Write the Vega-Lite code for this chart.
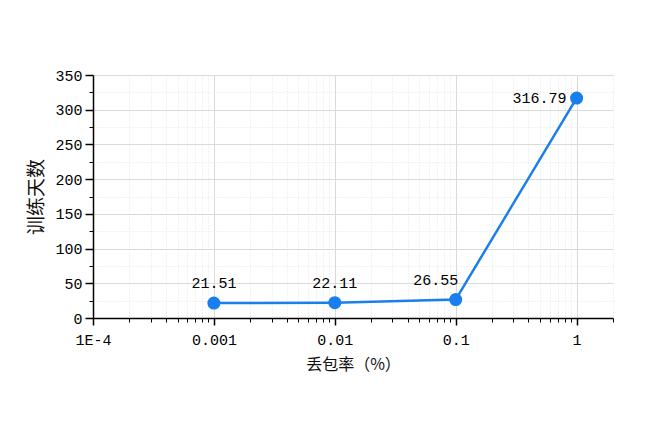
{
  "$schema": "https://vega.github.io/schema/vega-lite/v6.json",
  "autosize": {"type": "none"},
  "width": 520,
  "height": 243,
  "padding": {"left": 93, "top": 75, "right": 37, "bottom": 115},
  "background": "white",
  "data": {"values": [
    {"loss": 0.001, "days": 21.51},
    {"loss": 0.01, "days": 22.11},
    {"loss": 0.1, "days": 26.55},
    {"loss": 1, "days": 316.79}
  ]},
  "config": {
    "view": {"stroke": null},
    "axis": {"labelFont": "Liberation Mono", "labelFontSize": 15, "labelColor": "#000", "titleFont": "Noto Sans CJK SC", "titleFontSize": 16, "titleFontWeight": "normal", "titleColor": "#111"}
  },
  "resolve": {"axis": {"x": "independent", "y": "independent"}},
  "layer": [
    {
      "mark": {"type": "point", "opacity": 0},
      "encoding": {
        "x": {"field": "loss", "type": "quantitative", "scale": {"type": "log", "domain": [0.0001, 2], "nice": false},
          "axis": {"orient": "bottom", "title": null, "labels": false, "domain": false, "ticks": true, "tickSize": 4, "tickColor": "#000", "tickWidth": 1,
            "values": [0.0002,0.0003,0.0004,0.0005,0.0006,0.0007,0.0008,0.0009,0.002,0.003,0.004,0.005,0.006,0.007,0.008,0.009,0.02,0.03,0.04,0.05,0.06,0.07,0.08,0.09,0.2,0.3,0.4,0.5,0.6,0.7,0.8,0.9,2],
            "grid": true, "gridColor": "#e4e4e4", "gridDash": [1, 2], "gridWidth": 1}},
        "y": {"field": "days", "type": "quantitative", "scale": {"domain": [0, 350], "nice": false},
          "axis": {"orient": "left", "title": null, "labels": false, "domain": false, "ticks": true, "tickSize": 4, "tickColor": "#000", "tickWidth": 1,
            "values": [25, 75, 125, 175, 225, 275, 325],
            "grid": true, "gridColor": "#e4e4e4", "gridDash": [1, 2], "gridWidth": 1}}
      }
    },
    {
      "mark": {"type": "line", "color": "#1a7fea", "strokeWidth": 2.5},
      "encoding": {
        "x": {"field": "loss", "type": "quantitative", "scale": {"type": "log", "domain": [0.0001, 2], "nice": false},
          "axis": {"orient": "bottom", "title": "丢包率（%）", "titlePadding": 9, "values": [0.0001, 0.001, 0.01, 0.1, 1],
            "labelExpr": "datum.value < 0.0005 ? '1E-4' : datum.value >= 1 ? '1' : format(datum.value, '~g')",
            "domainColor": "#000", "domainWidth": 1.5, "tickColor": "#000", "tickWidth": 1.5, "tickSize": 7, "labelPadding": 7,
            "grid": true, "gridColor": "#dadada", "gridWidth": 1, "labelFlush": false, "labelOverlap": false}},
        "y": {"field": "days", "type": "quantitative", "scale": {"domain": [0, 350], "nice": false},
          "axis": {"orient": "left", "title": "训练天数", "titleFontSize": 19, "titlePadding": 8, "values": [0, 50, 100, 150, 200, 250, 300, 350],
            "domainColor": "#000", "domainWidth": 1.5, "tickColor": "#000", "tickWidth": 1.5, "tickSize": 8, "labelPadding": 3,
            "grid": true, "gridColor": "#dadada", "gridWidth": 1, "labelFlush": false, "labelOverlap": false}}
      }
    },
    {
      "mark": {"type": "circle", "color": "#1a7fee", "size": 170, "opacity": 1},
      "encoding": {
        "x": {"field": "loss", "type": "quantitative", "axis": null},
        "y": {"field": "days", "type": "quantitative", "axis": null}
      }
    },
    {
      "transform": [{"filter": "datum.loss < 0.05"}],
      "mark": {"type": "text", "font": "Liberation Mono", "fontSize": 15, "color": "#000", "dy": -20, "baseline": "middle", "align": "center"},
      "encoding": {
        "x": {"field": "loss", "type": "quantitative", "axis": null},
        "y": {"field": "days", "type": "quantitative", "axis": null},
        "text": {"field": "days", "type": "quantitative", "format": ".2f"}
      }
    },
    {
      "transform": [{"filter": "datum.loss > 0.05 && datum.loss < 0.5"}],
      "mark": {"type": "text", "font": "Liberation Mono", "fontSize": 15, "color": "#000", "dy": -20, "dx": -20, "baseline": "middle", "align": "center"},
      "encoding": {
        "x": {"field": "loss", "type": "quantitative", "axis": null},
        "y": {"field": "days", "type": "quantitative", "axis": null},
        "text": {"field": "days", "type": "quantitative", "format": ".2f"}
      }
    },
    {
      "transform": [{"filter": "datum.loss >= 0.5"}],
      "mark": {"type": "text", "font": "Liberation Mono", "fontSize": 15, "color": "#000", "dx": -10, "baseline": "middle", "align": "right"},
      "encoding": {
        "x": {"field": "loss", "type": "quantitative", "axis": null},
        "y": {"field": "days", "type": "quantitative", "axis": null},
        "text": {"field": "days", "type": "quantitative", "format": ".2f"}
      }
    }
  ]
}
